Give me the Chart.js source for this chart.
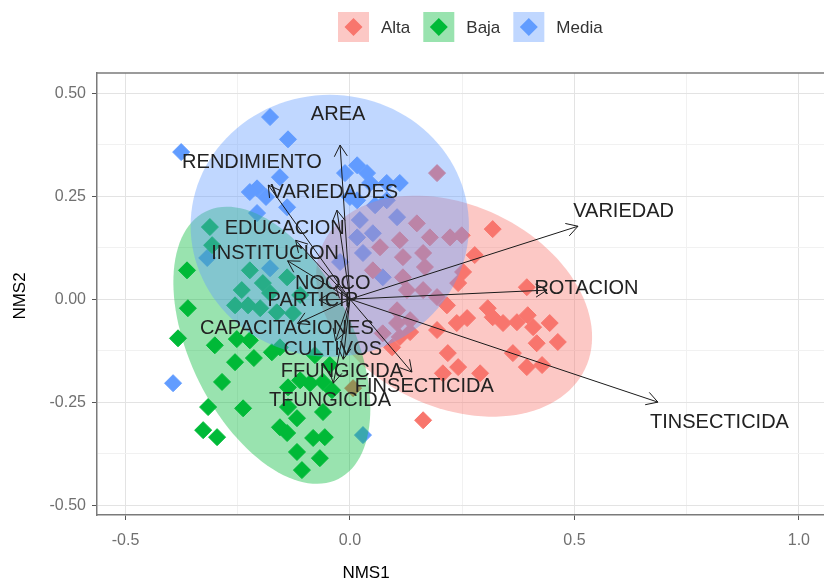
<!DOCTYPE html>
<html>
<head>
<meta charset="utf-8">
<script src="https://cdn.jsdelivr.net/npm/chart.js@4.4.0/dist/chart.umd.min.js"></script>
<style>
  html, body { margin: 0; padding: 0; background: #fff; overflow: hidden; }
  #wrap { width: 824px; height: 581px; position: relative; }
</style>
</head>
<body>
<div id="wrap"><canvas id="nmdsChart"></canvas></div>
<script>
const groups = ["Alta", "Baja", "Media"];
const groupColors = ["#F8766D", "#00BA38", "#619CFF"];

// site scores (NMS1, NMS2) per group
const altaX = [0.194, 0.149, 0.178, 0.223, 0.249, 0.111, 0.067, 0.163, 0.118, 0.167, 0.051, 0.118, 0.127, 0.163, 0.194, 0.105, 0.134, 0.105, 0.073, 0.094,
  0.318, 0.278, 0.252, 0.241, 0.394, 0.216, 0.307, 0.318, 0.261, 0.238, 0.194, 0.341, 0.372, 0.396, 0.408, 0.445, 0.416, 0.463, 0.363, 0.394, 0.428,
  0.218, 0.241, 0.207, 0.290, 0.163, 0.134, 0.007, 0.111];
const altaY = [0.306, 0.184, 0.150, 0.150, 0.155, 0.143, 0.126, 0.112, 0.102, 0.078, 0.070, 0.053, 0.022, 0.022, 0.005, -0.027, -0.051, -0.058, -0.083, -0.117,
  0.170, 0.107, 0.066, 0.039, 0.029, -0.015, -0.022, -0.044, -0.046, -0.058, -0.075, -0.058, -0.056, -0.039, -0.068, -0.058, -0.107, -0.104, -0.131, -0.165, -0.160,
  -0.131, -0.165, -0.180, -0.180, -0.294, -0.080, -0.216, -0.092];

const bajaX = [-0.363, -0.361, -0.383, -0.301, -0.252, -0.223, -0.256, -0.214, -0.174, -0.285, -0.138, -0.111, -0.089, -0.060, -0.040, -0.316, -0.238, -0.138,
  -0.118, -0.060, -0.156, -0.140, -0.327, -0.296, -0.082, -0.056, -0.118, -0.067, -0.107,
  -0.312, -0.223, -0.241, -0.256, -0.227, -0.194, -0.178, -0.200, -0.163, -0.140, -0.156, -0.127, -0.307, -0.078, -0.045, -0.111];
const bajaY = [0.070, -0.022, -0.095, -0.112, -0.097, -0.100, -0.153, -0.143, -0.129, -0.201, -0.214, -0.197, -0.204, -0.201, -0.221, -0.262, -0.265, -0.262,
  -0.289, -0.274, -0.311, -0.325, -0.318, -0.335, -0.337, -0.335, -0.371, -0.386, -0.415,
  0.175, 0.070, 0.022, -0.015, -0.015, 0.039, 0.015, -0.022, -0.032, 0.053, -0.117, -0.034, 0.131, -0.136, -0.160, 0.010];

const mediaX = [-0.178, -0.138, -0.376, -0.156, -0.207, -0.223, -0.187, -0.140, -0.011, 0.016, 0.038, 0.000, 0.045, 0.082, 0.111, 0.016, 0.082, 0.105,
  0.022, 0.016, 0.051, 0.029, 0.073, -0.207, -0.178, -0.318, -0.394, 0.029, -0.022, 0.056];
const mediaY = [0.442, 0.388, 0.357, 0.296, 0.269, 0.260, 0.248, 0.223, 0.306, 0.325, 0.306, 0.248, 0.282, 0.282, 0.282, 0.240, 0.240, 0.199,
  0.192, 0.150, 0.160, 0.112, 0.053, 0.209, 0.075, 0.100, -0.204, -0.330, 0.090, 0.228];

// confidence ellipses per group (centre, semi-axes, rotation in degrees)
const ellipseCX = [0.232, -0.174, -0.045];
const ellipseCY = [-0.017, -0.112, 0.178];
const ellipseA = [0.33, 0.357, 0.31];
const ellipseB = [0.24, 0.184, 0.318];
const ellipseAngle = [-32, -67, 0];

// fitted environmental vectors
const vectorNames = ["AREA", "RENDIMIENTO", "VARIEDADES", "EDUCACION", "INSTITUCION", "NOOCO", "PARTICIP", "CAPACITACIONES",
  "CULTIVOS", "FFUNGICIDA", "TFUNGICIDA", "FINSECTICIDA", "VARIEDAD", "ROTACION", "TINSECTICIDA"];
const vectorX = [-0.022, -0.182, -0.029, -0.121, -0.139, -0.032, -0.069, -0.117, -0.032, -0.015, -0.037, 0.138, 0.508, 0.439, 0.686];
const vectorY = [0.374, 0.277, 0.216, 0.143, 0.093, 0.032, -0.002, -0.059, -0.101, -0.146, -0.204, -0.177, 0.177, 0.022, -0.250];
const labelScale = 1.2;

const FONT = "'Liberation Sans', Arial, sans-serif";
Chart.defaults.font.family = FONT;

function hexAlpha(hex, a) {
  const n = parseInt(hex.slice(1), 16);
  return "rgba(" + (n >> 16) + "," + ((n >> 8) & 255) + "," + (n & 255) + "," + a + ")";
}
function isMultiple(v, step) {
  return Math.abs(v / step - Math.round(v / step)) < 1e-6;
}
function diamond(ctx, x, y, r, color) {
  ctx.beginPath();
  ctx.moveTo(x, y - r);
  ctx.lineTo(x + r, y);
  ctx.lineTo(x, y + r);
  ctx.lineTo(x - r, y);
  ctx.closePath();
  ctx.fillStyle = color;
  ctx.fill();
}

const biplotPlugin = {
  id: "biplot",
  afterDatasetsDraw(chart) {
    const ctx = chart.ctx;
    const xs = chart.scales.x;
    const ys = chart.scales.y;
    const area = chart.chartArea;
    ctx.save();
    ctx.beginPath();
    ctx.rect(area.left, area.top, area.right - area.left, area.bottom - area.top);
    ctx.clip();

    // ellipses over the points
    for (let g = 0; g < groups.length; g++) {
      const phi = ellipseAngle[g] * Math.PI / 180;
      ctx.beginPath();
      for (let i = 0; i <= 120; i++) {
        const t = i / 120 * 2 * Math.PI;
        const dx = ellipseA[g] * Math.cos(t) * Math.cos(phi) - ellipseB[g] * Math.sin(t) * Math.sin(phi);
        const dy = ellipseA[g] * Math.cos(t) * Math.sin(phi) + ellipseB[g] * Math.sin(t) * Math.cos(phi);
        const px = xs.getPixelForValue(ellipseCX[g] + dx);
        const py = ys.getPixelForValue(ellipseCY[g] + dy);
        if (i === 0) ctx.moveTo(px, py); else ctx.lineTo(px, py);
      }
      ctx.closePath();
      ctx.fillStyle = hexAlpha(groupColors[g], 0.4);
      ctx.fill();
    }

    // arrows
    const ox = xs.getPixelForValue(0);
    const oy = ys.getPixelForValue(0);
    ctx.strokeStyle = "#1a1a1a";
    ctx.lineWidth = 1;
    for (let i = 0; i < vectorNames.length; i++) {
      const tx = xs.getPixelForValue(vectorX[i]);
      const ty = ys.getPixelForValue(vectorY[i]);
      const ang = Math.atan2(ty - oy, tx - ox);
      const L = 13;
      ctx.beginPath();
      ctx.moveTo(ox, oy);
      ctx.lineTo(tx, ty);
      ctx.moveTo(tx - L * Math.cos(ang - Math.PI / 6), ty - L * Math.sin(ang - Math.PI / 6));
      ctx.lineTo(tx, ty);
      ctx.lineTo(tx - L * Math.cos(ang + Math.PI / 6), ty - L * Math.sin(ang + Math.PI / 6));
      ctx.stroke();
    }

    // arrow labels
    ctx.font = "20px " + FONT;
    ctx.fillStyle = "#222";
    ctx.textAlign = "center";
    ctx.textBaseline = "middle";
    for (let i = 0; i < vectorNames.length; i++) {
      ctx.fillText(vectorNames[i], xs.getPixelForValue(vectorX[i] * labelScale), ys.getPixelForValue(vectorY[i] * labelScale));
    }
    ctx.restore();

    // top panel border
    ctx.save();
    ctx.strokeStyle = "#7a7a7a";
    ctx.lineWidth = 1.5;
    ctx.beginPath();
    ctx.moveTo(area.left, area.top);
    ctx.lineTo(area.right, area.top);
    ctx.stroke();
    ctx.restore();
  },
  afterDraw(chart) {
    const ctx = chart.ctx;
    ctx.save();
    // legend
    ctx.font = "17px " + FONT;
    ctx.textBaseline = "middle";
    ctx.textAlign = "left";
    let lx = 338;
    const ly = 12;
    for (let g = 0; g < groups.length; g++) {
      ctx.fillStyle = hexAlpha(groupColors[g], 0.4);
      ctx.fillRect(lx, ly, 31, 30);
      diamond(ctx, lx + 15.5, ly + 15, 9, groupColors[g]);
      ctx.fillStyle = "#333";
      ctx.fillText(groups[g], lx + 43, ly + 16);
      lx += 43 + ctx.measureText(groups[g]).width + 13;
    }
    // axis titles
    ctx.fillStyle = "#000";
    ctx.font = "17px " + FONT;
    ctx.textAlign = "center";
    ctx.fillText("NMS1", 366, 573);
    ctx.translate(20, 296);
    ctx.rotate(-Math.PI / 2);
    ctx.fillText("NMS2", 0, 0);
    ctx.restore();
  }
};

function makeSet(label, xs, ys, color) {
  return {
    label: label,
    data: xs.map((x, i) => ({ x: x, y: ys[i] })),
    pointStyle: "rectRot",
    pointRadius: 8.5,
    pointHoverRadius: 8.5,
    backgroundColor: color,
    borderColor: color,
    borderWidth: 1
  };
}

const ctx = document.getElementById("nmdsChart").getContext("2d");
const nmdsChart = new Chart(ctx, {
  type: "scatter",
  data: {
    datasets: [
      makeSet("Alta", altaX, altaY, groupColors[0]),
      makeSet("Baja", bajaX, bajaY, groupColors[1]),
      makeSet("Media", mediaX, mediaY, groupColors[2])
    ]
  },
  options: {
    responsive: true,
    maintainAspectRatio: false,
    animation: false,
    layout: { autoPadding: false, padding: { top: 73, right: 0, bottom: 0, left: 0 } },
    plugins: { legend: { display: false }, tooltip: { enabled: false } },
    scales: {
      x: {
        type: "linear",
        min: -0.5635,
        max: 1.056,
        afterFit(s) { s.height = 66; s.paddingLeft = 0; s.paddingRight = 0; },
        ticks: {
          stepSize: 0.25,
          includeBounds: false,
          autoSkip: false,
          maxRotation: 0,
          padding: 11,
          color: "#707070",
          font: { size: 16 },
          callback: v => isMultiple(v, 0.5) ? v.toFixed(1) : ""
        },
        grid: {
          color: c => (c.tick && isMultiple(c.tick.value, 0.5)) ? "#e3e3e3" : "#f1f1f1",
          tickColor: c => (c.tick && isMultiple(c.tick.value, 0.5)) ? "#555" : "rgba(0,0,0,0)",
          tickLength: 5
        },
        border: { color: "#7a7a7a", width: 1.5 }
      },
      y: {
        type: "linear",
        min: -0.524,
        max: 0.549,
        afterFit(s) { s.width = 97; s.paddingTop = 0; s.paddingBottom = 0; },
        ticks: {
          stepSize: 0.125,
          includeBounds: false,
          autoSkip: false,
          padding: 6,
          color: "#707070",
          font: { size: 16 },
          callback: v => isMultiple(v, 0.25) ? v.toFixed(2) : ""
        },
        grid: {
          color: c => (c.tick && isMultiple(c.tick.value, 0.25)) ? "#e3e3e3" : "#f1f1f1",
          tickColor: c => (c.tick && isMultiple(c.tick.value, 0.25)) ? "#555" : "rgba(0,0,0,0)",
          tickLength: 5
        },
        border: { color: "#7a7a7a", width: 1.5 }
      }
    }
  },
  plugins: [biplotPlugin]
});
</script>
</body>
</html>
